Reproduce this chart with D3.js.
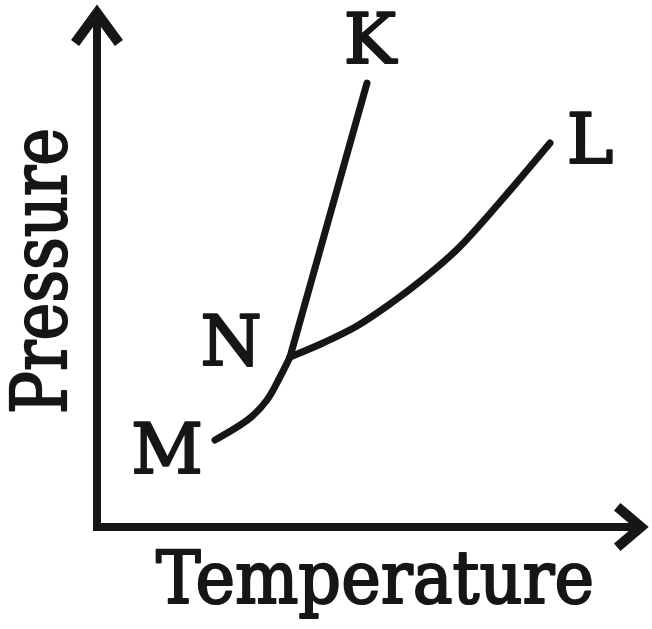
<!DOCTYPE html>
<html>
<head>
<meta charset="utf-8">
<script src="https://cdn.jsdelivr.net/npm/d3@7"></script>
<style>
  html, body { margin: 0; padding: 0; background: #fff; }
  svg { display: block; }
</style>
</head>
<body>
<svg id="chart" width="652" height="629"></svg>
<script>
// ---- data (arbitrary temperature / pressure units) ----
const curveMN_T = [2.36, 3.06, 3.40, 3.66, 3.86];
const curveMN_P = [1.74, 2.18, 2.54, 3.00, 3.40];
const curveNK_T = [3.86, 5.40];
const curveNK_P = [3.40, 8.88];
const curveNL_T = [3.86, 4.52, 5.20, 5.86, 6.52, 7.20, 8.06, 9.06];
const curveNL_P = [3.40, 3.68, 4.02, 4.46, 4.96, 5.55, 6.50, 7.68];
const pointLabels = ["M", "N", "K", "L"];
const xTitle = "Temperature";
const yTitle = "Pressure";

const svg = d3.select("#chart");
const ink = "#161616";

const x = d3.scaleLinear().domain([0, 11]).range([97, 647]);
const y = d3.scaleLinear().domain([0, 10.4]).range([527, 7]);

// ---- axes with arrowheads ----
const x0 = x(0), y0 = y(0), xMax = x.range()[1], yMax = y.range()[1];
svg.append("line").attr("x1", x0).attr("y1", y0 + 4).attr("x2", x0).attr("y2", yMax + 4)
  .attr("stroke", ink).attr("stroke-width", 8);
svg.append("line").attr("x1", x0 - 4).attr("y1", y0).attr("x2", xMax - 4).attr("y2", y0)
  .attr("stroke", ink).attr("stroke-width", 8);
svg.append("path")
  .attr("d", `M${x0 - 19},${yMax + 32} L${x0},${yMax + 6} L${x0 + 19},${yMax + 32}`)
  .attr("fill", "none").attr("stroke", ink).attr("stroke-width", 10)
  .attr("stroke-linejoin", "miter").attr("stroke-linecap", "square");
svg.append("path")
  .attr("d", `M${xMax - 26},${y0 - 17} L${xMax - 6},${y0} L${xMax - 26},${y0 + 17}`)
  .attr("fill", "none").attr("stroke", ink).attr("stroke-width", 10)
  .attr("stroke-linejoin", "miter").attr("stroke-linecap", "square");

// ---- curves ----
const line = d3.line().x(d => x(d[0])).y(d => y(d[1])).curve(d3.curveCatmullRom.alpha(0.5));
function drawCurve(T, P) {
  svg.append("path")
    .datum(T.map((t, i) => [t, P[i]]))
    .attr("d", line)
    .attr("fill", "none").attr("stroke", ink).attr("stroke-width", 7)
    .attr("stroke-linecap", "round").attr("stroke-linejoin", "round");
}
drawCurve(curveMN_T, curveMN_P);
drawCurve(curveNK_T, curveNK_P);
drawCurve(curveNL_T, curveNL_P);

// ---- labels ----
const font = "'DejaVu Serif', serif";
function styleText(sel, size) {
  return sel.attr("font-family", font).attr("font-weight", "normal")
    .attr("font-size", size).attr("fill", ink)
    .attr("stroke", ink).attr("stroke-width", 2.2).attr("stroke-linejoin", "round");
}
function label(txt, px, py) {
  return styleText(svg.append("text").text(txt)
    .attr("x", px).attr("y", py).attr("text-anchor", "middle"), 70);
}
label(pointLabels[0], x(curveMN_T[0]) - 48, y(curveMN_P[0]) + 33);
label(pointLabels[1], x(curveMN_T[curveMN_T.length - 1]) - 59, y(curveMN_P[curveMN_P.length - 1]) + 8);
label(pointLabels[2], x(curveNK_T[1]) + 3, y(curveNK_P[1]) - 20);
label(pointLabels[3], x(curveNL_T[curveNL_T.length - 1]) + 40, y(curveNL_P[curveNL_P.length - 1]) + 20);

styleText(svg.append("text").text(xTitle)
  .attr("x", 156).attr("y", 603)
  .attr("textLength", 438).attr("lengthAdjust", "spacingAndGlyphs"), 72);

styleText(svg.append("text").text(yTitle)
  .attr("transform", "translate(66,414) rotate(-90)")
  .attr("x", 0).attr("y", 0)
  .attr("textLength", 286).attr("lengthAdjust", "spacingAndGlyphs"), 76);
</script>
</body>
</html>
